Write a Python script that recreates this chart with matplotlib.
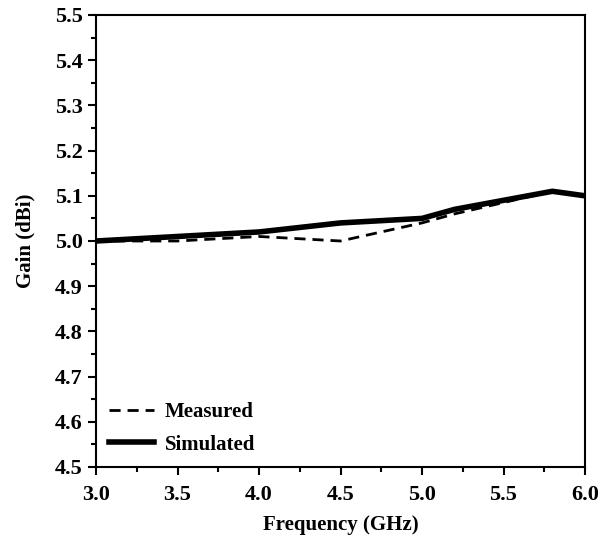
import matplotlib
matplotlib.use("Agg")
import matplotlib.pyplot as plt
from matplotlib.ticker import MultipleLocator, FormatStrFormatter

freq_meas = [3.0, 3.5, 4.0, 4.5, 5.0, 5.2, 5.5, 5.8, 6.0]
gain_meas = [5.0, 5.0, 5.01, 5.0, 5.04, 5.06, 5.085, 5.11, 5.10]
freq_sim = [3.0, 3.5, 4.0, 4.5, 5.0, 5.2, 5.5, 5.8, 6.0]
gain_sim = [5.0, 5.01, 5.02, 5.04, 5.05, 5.07, 5.09, 5.11, 5.10]

plt.rcParams['font.family'] = ['Liberation Serif', 'DejaVu Serif']
plt.rcParams['font.weight'] = 'bold'

fig = plt.figure(figsize=(6.09, 5.5), dpi=100)
ax = fig.add_axes([96/609, 1 - 467/550, (585-96)/609, (467-15)/550])

ax.plot(freq_meas, gain_meas, color='black', lw=2.0, ls=(0, (4, 2.5)), label='Measured')
ax.plot(freq_sim, gain_sim, color='black', lw=4, label='Simulated')

ax.set_xlim(3.0, 6.0)
ax.set_ylim(4.5, 5.5)
ax.xaxis.set_major_locator(MultipleLocator(0.5))
ax.xaxis.set_minor_locator(MultipleLocator(0.25))
ax.yaxis.set_major_locator(MultipleLocator(0.1))
ax.yaxis.set_minor_locator(MultipleLocator(0.05))
ax.xaxis.set_major_formatter(FormatStrFormatter('%.1f'))
ax.yaxis.set_major_formatter(FormatStrFormatter('%.1f'))
ax.tick_params(which='both', direction='out', width=1.5, labelsize=16)
ax.tick_params(which='major', length=6)
ax.tick_params(which='minor', length=3.5)
ax.tick_params(axis='x', pad=7)
for lbl in ax.get_xticklabels() + ax.get_yticklabels():
    lbl.set_fontweight('bold')
for s in ax.spines.values():
    s.set_linewidth(1.5)

ax.set_xlabel('Frequency (GHz)', fontsize=15, fontweight='bold', labelpad=7)
ax.set_ylabel('Gain (dBi)', fontsize=15, fontweight='bold', labelpad=14)

leg = ax.legend(loc='lower left', frameon=False, prop={'size': 15, 'weight': 'bold'},
                handlelength=2.2, handletextpad=0.5, borderaxespad=0.2, labelspacing=0.6)

fig.savefig('out.png', dpi=100)
